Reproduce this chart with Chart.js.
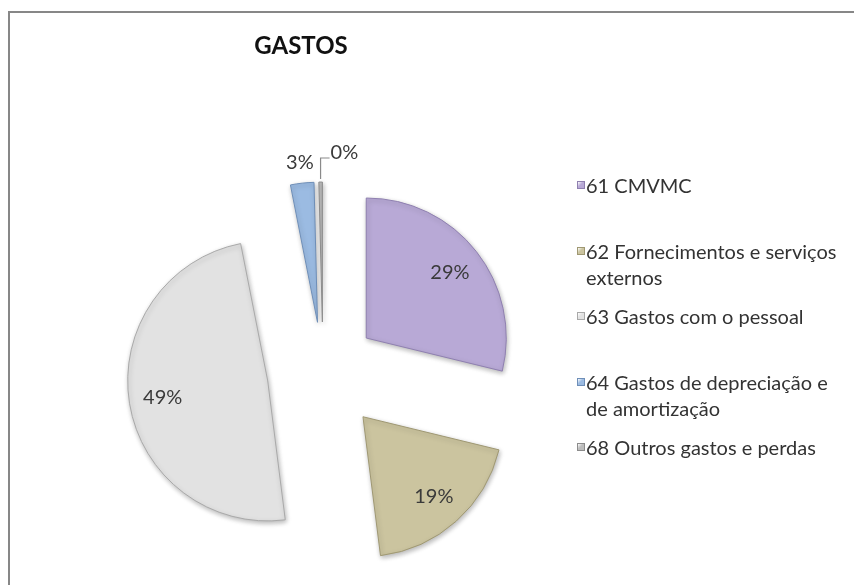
<!DOCTYPE html>
<html>
<head>
<meta charset="utf-8">
<title>GASTOS</title>
<script src="https://cdn.jsdelivr.net/npm/chart.js@4.4.1/dist/chart.umd.min.js"></script>
<style>
    html, body {
        margin: 0;
        padding: 0;
        width: 854px;
        height: 585px;
        overflow: hidden;
        background: #fff;
        font-family: 'Lato', 'Open Sans', sans-serif;
    }
    .frame {
        position: absolute;
        left: 8px;
        top: 11px;
        width: 900px;
        height: 700px;
        border-top: 2px solid #878787;
        border-left: 2px solid #878787;
    }
    #chart {
        position: absolute;
        left: 0;
        top: 0;
    }
    .chart-title {
        position: absolute;
        left: 0;
        top: 31px;
        width: 602px;
        text-align: center;
        font-weight: bold;
        font-size: 24px;
        line-height: 28px;
        color: #111;
    }
    .legend-item {
        position: absolute;
        left: 577px;
        font-size: 20px;
        line-height: 26px;
        color: #333;
        white-space: nowrap;
    }
    .legend-item .swatch {
        position: absolute;
        left: 0;
        top: 9px;
        width: 6px;
        height: 6px;
        border: 1px solid;
    }
    .legend-item .text {
        margin-left: 9px;
    }
</style>
</head>
<body>
<div class="frame"></div>
<canvas id="chart" width="854" height="585"></canvas>
<div class="chart-title" id="title"></div>
<div id="legend"></div>

<script>
// data
const chartTitle = 'GASTOS';
const categories = [
    '61 CMVMC',
    ['62 Fornecimentos e serviços', 'externos'],
    '63 Gastos com o pessoal',
    ['64 Gastos de depreciação e', 'de amortização'],
    '68 Outros gastos e perdas'
];
const shares = [28.8, 19.2, 48.9, 2.7, 0.4];

// styling
const sliceColors = ['#B8A9D6', '#CBC49F', '#E2E2E2', '#9BBBE2', '#BDBDBD'];
const sliceEdges = ['#8F80B0', '#9F9873', '#A9A9A9', '#6F8FB8', '#8C8C8C'];
const explode = [55, 60, 56, 50, 50];

const total = shares.reduce((a, b) => a + b, 0);

// Chart.js shrinks/grows arcs when using "offset", so explode the slices by hand
const explodedSlices = {
    id: 'explodedSlices',
    beforeDatasetDraw(chart, args) {
        const ctx = chart.ctx;
        ctx.save();
        ctx.shadowColor = 'rgba(0, 0, 0, 0.28)';
        ctx.shadowBlur = 5;
        ctx.shadowOffsetX = 1;
        ctx.shadowOffsetY = 2;
        args.meta.data.forEach((arc, i) => {
            const mid = (arc.startAngle + arc.endAngle) / 2;
            ctx.save();
            ctx.translate(Math.cos(mid) * explode[i], Math.sin(mid) * explode[i]);
            arc.draw(ctx);
            ctx.restore();
        });
        ctx.restore();
        return false;
    },
    afterDatasetsDraw(chart) {
        const ctx = chart.ctx;
        const meta = chart.getDatasetMeta(0);

        ctx.save();
        ctx.font = '20px Lato';
        ctx.fillStyle = '#3a3a3a';
        ctx.textAlign = 'center';
        ctx.textBaseline = 'middle';

        meta.data.forEach((arc, i) => {
            const p = arc.getProps(['x', 'y', 'startAngle', 'endAngle', 'outerRadius'], true);
            const off = explode[i];
            const mid = (p.startAngle + p.endAngle) / 2;
            const dx = Math.cos(mid);
            const dy = Math.sin(mid);
            const pct = Math.round(shares[i] / total * 100);
            const text = pct + '%';

            if (shares[i] / total > 0.1) {
                const d = off + p.outerRadius * 0.76;
                ctx.fillText(text, p.x + dx * d, p.y + dy * d);
            } else if (pct >= 1) {
                const d = off + p.outerRadius + 21;
                ctx.fillText(text, p.x + dx * d, p.y + dy * d);
            } else {
                // tiny slice: leader line going up then right
                const d = off + p.outerRadius + 3;
                const ax = p.x + dx * d;
                const ay = p.y + dy * d;
                ctx.strokeStyle = '#8a8a8a';
                ctx.lineWidth = 1.2;
                ctx.beginPath();
                ctx.moveTo(ax, ay);
                ctx.lineTo(ax, ay - 21);
                ctx.lineTo(ax + 9, ay - 21);
                ctx.stroke();
                ctx.textAlign = 'left';
                ctx.fillText(text, ax + 10, ay - 26);
                ctx.textAlign = 'center';
            }
        });
        ctx.restore();
    }
};

function buildLegend() {
    document.getElementById('title').textContent = chartTitle;
    const box = document.getElementById('legend');
    categories.forEach((label, i) => {
        const item = document.createElement('div');
        item.className = 'legend-item';
        item.style.top = (172 + 65.5 * i) + 'px';

        const sw = document.createElement('span');
        sw.className = 'swatch';
        sw.style.background = `linear-gradient(135deg, #fff 0%, ${sliceColors[i]} 45%, ${sliceColors[i]} 100%)`;
        sw.style.borderColor = sliceEdges[i];
        item.appendChild(sw);

        const txt = document.createElement('div');
        txt.className = 'text';
        const lines = Array.isArray(label) ? label : [label];
        lines.forEach(line => {
            const row = document.createElement('div');
            row.textContent = line;
            txt.appendChild(row);
        });
        item.appendChild(txt);
        box.appendChild(item);
    });
}

function createChart() {
    const ctx = document.getElementById('chart').getContext('2d');
    new Chart(ctx, {
        type: 'pie',
        data: {
            labels: categories,
            datasets: [{
                data: shares,
                backgroundColor: sliceColors,
                borderColor: sliceEdges,
                borderWidth: 1,
                radius: 140,
                clip: false
            }]
        },
        options: {
            responsive: false,
            animation: false,
            devicePixelRatio: 1,
            layout: {
                padding: { left: 0, right: 208, top: 159, bottom: 0 }
            },
            plugins: {
                legend: { display: false },
                title: { display: false },
                tooltip: { enabled: false }
            }
        },
        plugins: [explodedSlices]
    });
}

document.addEventListener('DOMContentLoaded', () => {
    buildLegend();
    createChart();
});
</script>
</body>
</html>
